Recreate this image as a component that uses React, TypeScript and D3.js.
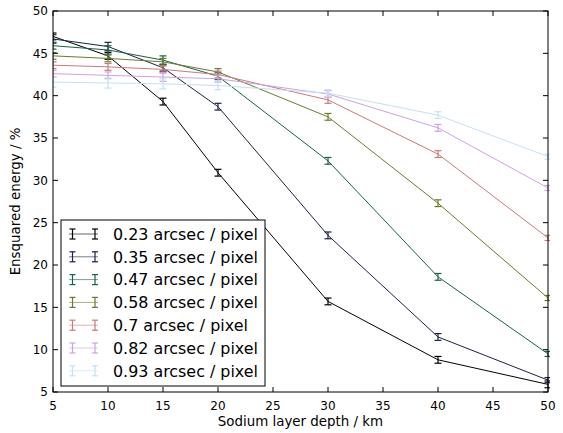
import React from "react";
import * as d3 from "d3";

const depths = [5, 10, 15, 20, 30, 40, 50];
const labels = [
  "0.23 arcsec / pixel",
  "0.35 arcsec / pixel",
  "0.47 arcsec / pixel",
  "0.58 arcsec / pixel",
  "0.7 arcsec / pixel",
  "0.82 arcsec / pixel",
  "0.93 arcsec / pixel",
];
const s023 = [47.0, 44.7, 39.3, 30.9, 15.7, 8.8, 5.9];
const s035 = [46.7, 45.8, 43.3, 38.7, 23.5, 11.5, 6.4];
const s047 = [45.9, 45.4, 44.2, 42.3, 32.3, 18.6, 9.5];
const s058 = [44.7, 44.4, 44.0, 42.8, 37.5, 27.3, 16.1];
const s070 = [43.6, 43.4, 43.1, 42.5, 39.5, 33.1, 23.2];
const s082 = [42.6, 42.4, 42.2, 42.0, 40.2, 36.2, 29.1];
const s093 = [41.6, 41.5, 41.4, 41.2, 40.3, 37.7, 32.8];
const e023 = [0.4, 0.4, 0.4, 0.4, 0.4, 0.4, 0.4];
const e035 = [0.5, 0.5, 0.4, 0.4, 0.4, 0.4, 0.3];
const e047 = [0.4, 0.5, 0.5, 0.4, 0.4, 0.4, 0.3];
const e058 = [0.4, 0.4, 0.4, 0.4, 0.4, 0.4, 0.3];
const e070 = [0.4, 0.4, 0.4, 0.4, 0.4, 0.4, 0.3];
const e082 = [0.4, 0.4, 0.5, 0.4, 0.4, 0.4, 0.3];
const e093 = [0.6, 0.6, 0.6, 0.5, 0.4, 0.4, 0.3];
const seriesValues = [s023, s035, s047, s058, s070, s082, s093];
const seriesErrors = [e023, e035, e047, e058, e070, e082, e093];
const xTicks = [5, 10, 15, 20, 25, 30, 35, 40, 45, 50];
const yTicks = [5, 10, 15, 20, 25, 30, 35, 40, 45, 50];

const colors = labels.map((_, i) => d3.interpolateCubehelixDefault(i / 7));

const W = 563;
const H = 433;
const left = 53;
const right = 548;
const top = 11;
const bottom = 392;
const FONT = "'DejaVu Sans', sans-serif";

export default function App() {
  const x = d3.scaleLinear().domain([5, 50]).range([left, right]);
  const y = d3.scaleLinear().domain([5, 50]).range([bottom, top]);
  const line = d3
    .line<[number, number]>()
    .x((d) => x(d[0]))
    .y((d) => y(d[1]));
  const cap = 3.5;
  const tick = 5;

  const legX = 61;
  const legY = 220;
  const legW = 204;
  const legH = 166;
  const rowY = (i: number) => legY + 14 + i * 22.8;

  return (
    <svg
      width={W}
      height={H}
      style={{ position: "absolute", left: 0, top: 0, background: "#fff" }}
      fontFamily={FONT}
    >
      <defs>
        <clipPath id="plotclip">
          <rect x={left} y={top - 2} width={right - left + 2} height={bottom - top + 4} />
        </clipPath>
      </defs>
      <rect x={0} y={0} width={W} height={H} fill="#fff" />
      <g clipPath="url(#plotclip)">
        {seriesValues.map((vals, si) => (
          <g key={si}>
            <path
              d={line(depths.map((d, i) => [d, vals[i]] as [number, number])) || ""}
              fill="none"
              stroke={colors[si]}
              strokeWidth={1}
            />
            {depths.map((d, i) => {
              const e = seriesErrors[si][i];
              const cx = x(d);
              const y1 = y(vals[i] + e);
              const y2 = y(vals[i] - e);
              return (
                <g key={i} stroke={colors[si]} strokeWidth={1.2}>
                  <line x1={cx} x2={cx} y1={y1} y2={y2} />
                  <line x1={cx - cap} x2={cx + cap} y1={y1} y2={y1} />
                  <line x1={cx - cap} x2={cx + cap} y1={y2} y2={y2} />
                </g>
              );
            })}
          </g>
        ))}
      </g>
      <g stroke="#000" strokeWidth={1}>
        {xTicks.map((t) => (
          <g key={"xt" + t}>
            <line x1={x(t)} x2={x(t)} y1={bottom} y2={bottom - tick} />
            <line x1={x(t)} x2={x(t)} y1={top} y2={top + tick} />
          </g>
        ))}
        {yTicks.map((t) => (
          <g key={"yt" + t}>
            <line x1={left} x2={left + tick} y1={y(t)} y2={y(t)} />
            <line x1={right} x2={right - tick} y1={y(t)} y2={y(t)} />
          </g>
        ))}
      </g>
      <rect
        x={left}
        y={top}
        width={right - left}
        height={bottom - top}
        fill="none"
        stroke="#000"
        strokeWidth={1}
      />
      {xTicks.map((t) => (
        <text key={"xl" + t} x={x(t)} y={410} textAnchor="middle" fontSize={12} fill="#000">
          {t}
        </text>
      ))}
      {yTicks.map((t) => (
        <text key={"yl" + t} x={48} y={y(t) + 4.3} textAnchor="end" fontSize={12} fill="#000">
          {t}
        </text>
      ))}
      <text x={(left + right) / 2} y={426} textAnchor="middle" fontSize={13.4} fill="#000">
        Sodium layer depth / km
      </text>
      <text
        transform={`translate(20,${(top + bottom) / 2}) rotate(-90)`}
        textAnchor="middle"
        fontSize={13.4}
        fill="#000"
      >
        Ensquared energy / %
      </text>
      <rect x={legX} y={legY} width={legW} height={legH} fill="#fff" stroke="#000" strokeWidth={1} />
      {labels.map((lab, i) => {
        const cy = rowY(i);
        const c = colors[i];
        return (
          <g key={"lg" + i}>
            <line x1={69} x2={98} y1={cy} y2={cy} stroke={c} strokeWidth={1} strokeOpacity={0.6} />
            {[72.5, 95].map((cx) => (
              <g key={cx} stroke={c} strokeWidth={1.2}>
                <line x1={cx} x2={cx} y1={cy - 5} y2={cy + 5} />
                <line x1={cx - 3} x2={cx + 3} y1={cy - 5} y2={cy - 5} />
                <line x1={cx - 3} x2={cx + 3} y1={cy + 5} y2={cy + 5} />
              </g>
            ))}
            <text x={113} y={cy + 5.8} fontSize={15.9} fill="#000">
              {lab}
            </text>
          </g>
        );
      })}
    </svg>
  );
}
